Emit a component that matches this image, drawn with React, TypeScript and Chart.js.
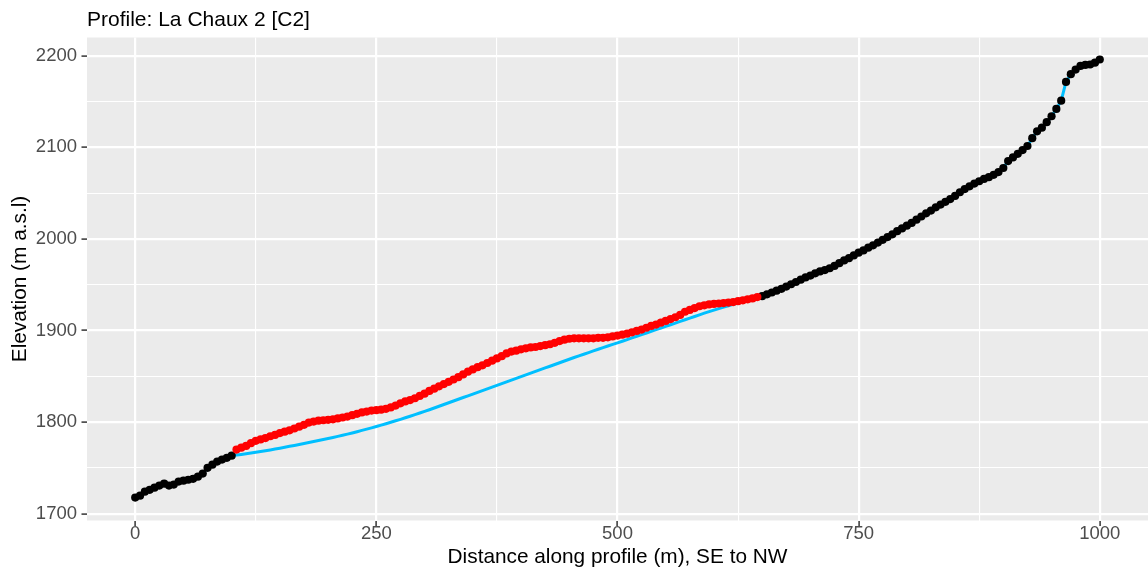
import React, { useEffect, useRef } from "react";
import { Chart, registerables } from "chart.js";

Chart.register(...registerables);

const TITLE = "Profile: La Chaux 2 [C2]";
const X_TITLE = "Distance along profile (m), SE to NW";
const Y_TITLE = "Elevation (m a.s.l)";
const FONT = '"Liberation Sans", Arial, Helvetica, sans-serif';

const xTickValues = [0, 125, 250, 375, 500, 625, 750, 875, 1000];
const xTickLabels = ["0", "", "250", "", "500", "", "750", "", "1000"];
const yTickValues = [1700, 1750, 1800, 1850, 1900, 1950, 2000, 2050, 2100, 2150, 2200];
const yTickLabels = ["1700", "", "1800", "", "1900", "", "2000", "", "2100", "", "2200"];

// lower stable section (black points)
const distLower = [0, 5, 10, 15, 20, 25, 30, 35, 40, 45, 50, 55, 60, 65, 70, 75, 80, 85, 90, 95, 100];
const elevLower = [1717.5, 1719.6, 1724, 1726, 1728.4, 1730.6, 1732.7, 1730.6, 1731.7, 1735, 1736, 1737, 1738, 1740.4, 1743.7, 1750, 1753.5, 1756.8, 1759, 1761, 1763.3];

// landslide section (red points) with the fitted reference surface (blue line)
const distBand = [105, 110, 115, 120, 125, 130, 135, 140, 145, 150, 155, 160, 165, 170, 175, 180, 185, 190, 195, 200,
  205, 210, 215, 220, 225, 230, 235, 240, 245, 250, 255, 260, 265, 270, 275, 280, 285, 290, 295, 300,
  305, 310, 315, 320, 325, 330, 335, 340, 345, 350, 355, 360, 365, 370, 375, 380, 385, 390, 395, 400,
  405, 410, 415, 420, 425, 430, 435, 440, 445, 450, 455, 460, 465, 470, 475, 480, 485, 490, 495, 500,
  505, 510, 515, 520, 525, 530, 535, 540, 545, 550, 555, 560, 565, 570, 575, 580, 585, 590, 595, 600,
  605, 610, 615, 620, 625, 630, 635, 640, 645];
const elevBand = [1770, 1772, 1774, 1777, 1779.5, 1781, 1782.5, 1784.5, 1786, 1788, 1789.5, 1791, 1793, 1795, 1797, 1799.5, 1800.5, 1801.5, 1802, 1802.5,
  1803, 1804, 1805, 1806, 1807.5, 1809, 1810.5, 1811.5, 1812.5, 1813, 1813.5, 1814.5, 1816, 1818, 1820.5, 1822.5, 1824, 1826, 1828.5, 1831,
  1834, 1836.5, 1839, 1841.5, 1844, 1846.5, 1849, 1852, 1855, 1857.5, 1860, 1862, 1864.5, 1867, 1869.5, 1872, 1875, 1877, 1878, 1879.5,
  1880.5, 1881.5, 1882, 1883, 1884, 1885, 1886.5, 1888.5, 1890, 1891, 1891.5, 1891.5, 1891.5, 1891.5, 1891.5, 1892, 1892, 1892.5, 1893.5, 1894.5,
  1895.5, 1896.5, 1898, 1899.5, 1901, 1903, 1905, 1906.5, 1908.5, 1910.5, 1912.5, 1914.5, 1917, 1920.5, 1922.5, 1924.5, 1926.5, 1927.5, 1928.5, 1929,
  1929.5, 1930, 1930.5, 1931, 1932, 1933, 1934, 1935, 1936.5];
const fitBand = [1764.0, 1764.7, 1765.4, 1766.2, 1767.0, 1767.8, 1768.7, 1769.6, 1770.5, 1771.5, 1772.5, 1773.5, 1774.5, 1775.5, 1776.5, 1777.6, 1778.7, 1779.8, 1780.9, 1782.0,
  1783.2, 1784.4, 1785.6, 1786.8, 1788.1, 1789.5, 1790.9, 1792.3, 1793.7, 1795.2, 1796.7, 1798.2, 1799.8, 1801.4, 1803.0, 1804.7, 1806.4, 1808.1, 1809.9, 1811.7,
  1813.5, 1815.4, 1817.3, 1819.2, 1821.1, 1823.0, 1824.9, 1826.8, 1828.7, 1830.6, 1832.5, 1834.4, 1836.3, 1838.2, 1840.1, 1842.0, 1843.9, 1845.8, 1847.7, 1849.6,
  1851.5, 1853.4, 1855.3, 1857.2, 1859.1, 1861.0, 1862.9, 1864.8, 1866.7, 1868.6, 1870.5, 1872.3, 1874.1, 1875.9, 1877.7, 1879.5, 1881.3, 1883.1, 1884.8, 1886.5,
  1888.3, 1890.1, 1891.9, 1893.7, 1895.5, 1897.3, 1899.1, 1900.9, 1902.7, 1904.5, 1906.3, 1908.1, 1909.9, 1911.7, 1913.5, 1915.3, 1917.1, 1918.9, 1920.6, 1922.3,
  1923.9, 1925.5, 1927.0, 1928.5, 1929.9, 1931.3, 1932.6, 1933.9, 1935.2];

// upper stable section (black points)
const distUpper = [650, 655, 660, 665, 670, 675, 680, 685, 690, 695, 700, 705, 710, 715, 720, 725, 730, 735, 740, 745,
  750, 755, 760, 765, 770, 775, 780, 785, 790, 795, 800, 805, 810, 815, 820, 825, 830, 835, 840, 845,
  850, 855, 860, 865, 870, 875, 880, 885, 890, 895, 900, 905, 910, 915, 920, 925, 930, 935, 940, 945,
  950, 955, 960, 965, 970, 975, 980, 985, 990, 995, 1000];
const elevUpper = [1937.5, 1939.5, 1941.5, 1943.5, 1945.5, 1948, 1950.5, 1953, 1955.5, 1958, 1960, 1962.5, 1964.5, 1966, 1968, 1970.5, 1973.5, 1976.5, 1979, 1982,
  1985, 1987.5, 1990.5, 1993, 1996, 1999, 2002, 2005, 2008.5, 2011.5, 2014.5, 2017.5, 2021, 2024.5, 2028, 2031, 2034.5, 2037.5, 2040.5, 2043.5,
  2047, 2051, 2054.5, 2057.5, 2060.5, 2063, 2065.5, 2067.5, 2070, 2073, 2077.5, 2085, 2089, 2093, 2097, 2101.5, 2110, 2117.5, 2121.5, 2127.5,
  2134, 2142, 2151, 2171.5, 2180, 2185, 2189, 2190, 2190.5, 2192.5, 2196];

const pairs = (xs: number[], ys: number[]) => xs.map((x, i) => ({ x, y: ys[i] }));

const panelPlugin = {
  id: "ggPanel",
  beforeDraw(chart: any) {
    const { ctx, chartArea: a } = chart;
    ctx.save();
    ctx.fillStyle = "#FFFFFF";
    ctx.fillRect(0, 0, chart.width, chart.height);
    ctx.fillStyle = "#EBEBEB";
    ctx.fillRect(a.left, a.top, a.right - a.left, a.bottom - a.top);
    ctx.fillStyle = "#000000";
    ctx.font = `21px ${FONT}`;
    ctx.textAlign = "left";
    ctx.textBaseline = "alphabetic";
    ctx.fillText(TITLE, 87, 26);
    ctx.restore();
  },
};

export default function App() {
  const ref = useRef<HTMLCanvasElement | null>(null);

  useEffect(() => {
    if (!ref.current) return;
    const isMajorX = (v: number) => xTickLabels[xTickValues.indexOf(v)] !== "";
    const isMajorY = (v: number) => yTickLabels[yTickValues.indexOf(v)] !== "";

    const chart = new Chart(ref.current, {
      type: "scatter",
      data: {
        datasets: [
          {
            label: "band",
            data: pairs(distBand, elevBand),
            backgroundColor: "#FF0000",
            borderWidth: 0,
            pointRadius: 4.1,
            showLine: false,
            order: 0,
          },
          {
            label: "stable",
            data: [...pairs(distLower, elevLower), ...pairs(distUpper, elevUpper)],
            backgroundColor: "#000000",
            borderWidth: 0,
            pointRadius: 4.1,
            showLine: false,
            order: 1,
          },
          {
            label: "surface",
            data: [...pairs(distLower, elevLower), ...pairs(distBand, fitBand), ...pairs(distUpper, elevUpper)],
            borderColor: "#00BFFF",
            backgroundColor: "#00BFFF",
            borderWidth: 3,
            pointRadius: 0,
            showLine: true,
            tension: 0,
            order: 2,
          },
        ],
      },
      options: {
        animation: false,
        responsive: false,
        maintainAspectRatio: false,
        layout: { autoPadding: false, padding: { top: 37.5, left: 0, right: 0, bottom: 0 } },
        plugins: { legend: { display: false }, tooltip: { enabled: false }, title: { display: false } },
        scales: {
          x: {
            type: "linear",
            min: -50,
            max: 1050,
            afterBuildTicks: (s: any) => {
              s.ticks = xTickValues.map((v) => ({ value: v }));
            },
            afterFit: (s: any) => {
              s.height = 56.5;
              s.paddingLeft = 0;
              s.paddingRight = 0;
            },
            border: { display: false },
            grid: {
              color: "#FFFFFF",
              lineWidth: (c: any) => (c.tick && isMajorX(c.tick.value) ? 2.2 : 1.1),
              drawTicks: true,
              tickLength: 5.5,
              tickWidth: 1.5,
              tickColor: (c: any) => (c.tick && isMajorX(c.tick.value) ? "#333333" : "rgba(0,0,0,0)"),
            },
            ticks: {
              autoSkip: false,
              maxRotation: 0,
              padding: -3,
              color: "#4D4D4D",
              font: { size: 18.5, family: FONT },
              callback: (v: any) => xTickLabels[xTickValues.indexOf(Number(v))] ?? "",
            },
            title: {
              display: true,
              text: X_TITLE,
              color: "#000000",
              font: { size: 20.8, family: FONT },
              padding: { top: 0, bottom: 7 },
            },
          },
          y: {
            type: "linear",
            min: 1692.5,
            max: 2220,
            afterBuildTicks: (s: any) => {
              s.ticks = yTickValues.map((v) => ({ value: v }));
            },
            afterFit: (s: any) => {
              s.width = 87;
              s.paddingTop = 0;
              s.paddingBottom = 0;
            },
            border: { display: false },
            grid: {
              color: "#FFFFFF",
              lineWidth: (c: any) => (c.tick && isMajorY(c.tick.value) ? 2.2 : 1.1),
              drawTicks: true,
              tickLength: 5.5,
              tickWidth: 1.5,
              tickColor: (c: any) => (c.tick && isMajorY(c.tick.value) ? "#333333" : "rgba(0,0,0,0)"),
            },
            ticks: {
              autoSkip: false,
              padding: 4.5,
              color: "#4D4D4D",
              font: { size: 18.5, family: FONT },
              callback: (v: any) => yTickLabels[yTickValues.indexOf(Number(v))] ?? "",
            },
            title: {
              display: true,
              text: Y_TITLE,
              color: "#000000",
              font: { size: 20.8, family: FONT },
              padding: { top: 8, bottom: 0 },
            },
          },
        },
      },
      plugins: [panelPlugin],
    });
    return () => chart.destroy();
  }, []);

  return (
    <div style={{ position: "absolute", left: 0, top: 0, width: 1148, height: 577 }}>
      <canvas ref={ref} width={1148} height={577} style={{ width: 1148, height: 577, display: "block" }} />
    </div>
  );
}
